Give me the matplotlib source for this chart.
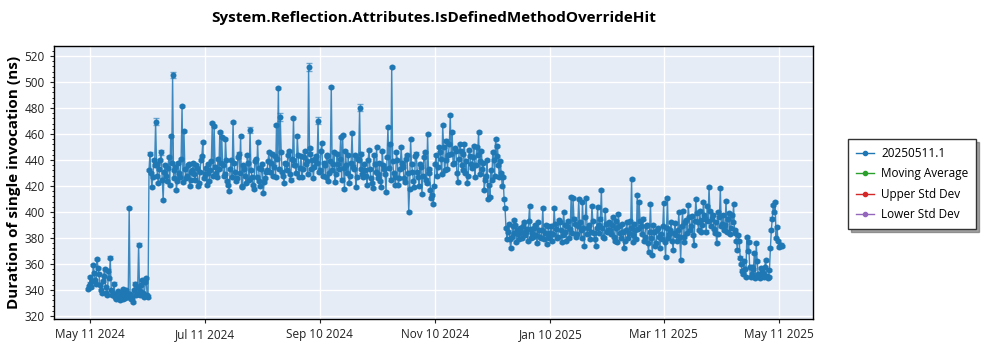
import matplotlib
matplotlib.use("Agg")
import matplotlib.pyplot as plt
from matplotlib.ticker import MultipleLocator
import numpy as np
import pandas as pd

# ---------------- data (ns) ----------------
# main readings: one per day starting 2024-05-10
start_date = "2024-05-10"
seg_may_jun = [340.5, 345, 342, 359, 348, 364, 352, 340, 347, 356, 338, 355, 365, 336, 345, 333,
               339, 332, 336, 341, 334, 338, 403, 333, 331, 345, 337, 375, 336, 348, 335, 349, 335]
seg_jun_jul = [445, 419, 440, 469.5, 428, 433, 446, 409, 436, 424, 442, 458.7, 505.4, 432, 417, 438,
               427, 481.8, 462.5, 426, 436, 420, 431, 438, 425, 434, 422, 440, 454, 429, 421, 437,
               432, 468.7, 466, 430, 441, 461.8]
seg_jul_aug = [458, 428, 456, 424, 416.4, 440, 469.5, 431, 426, 445, 458.5, 420, 433, 422, 438, 463,
               427, 418, 441, 454, 424, 433, 414.3, 426]
seg_aug_oct = [432, 446, 438, 428, 443, 467, 495.6, 473.3, 431, 422, 437, 444, 429, 441, 472.3, 436,
               458.4, 427, 443, 433, 447, 439, 511.3, 449, 440, 435, 443, 470.2, 432, 453.3, 438, 427,
               444, 430, 496.4, 437, 423, 445, 433, 458, 459, 418, 436, 444, 428, 460.5, 433, 419,
               441, 480.2, 445, 427]
seg_oct_nov = [432, 421, 448, 426, 418.7, 437, 450, 429, 424, 447, 433, 415.6, 465.6, 452, 511.3, 430,
               421, 440, 426, 449.7, 435, 423, 444, 400.2, 455.9, 431, 419, 445, 427, 437, 414, 442,
               425, 459.7, 433, 410.5, 406.1]
seg_nov_dec = [437, 428, 450, 441, 466.9, 432, 455, 444, 474.3, 461.8, 438, 447, 423.3, 452, 436, 445,
               430, 422, 448, 437, 442, 427, 450, 461.8, 439, 433, 416.9, 428, 409.7, 411.8, 425, 440,
               455.9, 451, 427, 430]
seg_dec_jan = [427, 403, 379, 391, 372, 389, 394, 377, 383, 388, 380, 392.6, 385, 378, 404.6, 387,
               381, 390, 376, 386, 379.7, 403.3, 384, 375.4, 389]
seg_jan_feb = [384, 378, 402.8, 387, 381, 392, 377, 400.2, 385, 389, 380, 411.8, 410.5, 391, 383, 409.8,
               386, 408, 373.8, 410.5, 388, 379, 404.6, 384, 373.9, 403.6, 390, 417, 381, 401.6, 385]
seg_feb_mar = [392, 383, 396, 378, 388, 398.2, 384, 391, 372, 386, 380, 393, 425.1, 377.2, 386, 413.1,
               407.4, 389, 395, 381, 390, 369.5, 406.2, 367, 385, 376, 388, 372, 379, 406.7, 365.1,
               410.5, 383, 392, 370.8, 391.8]
seg_mar_apr = [378, 399.7, 363.1, 400.8, 381, 394, 405.4, 386, 397, 374.6, 409.8, 392, 401, 385, 407.4,
               395, 404.9, 419.5, 389, 398, 384, 375.9, 400, 418.2, 391, 386, 408.7, 395, 383, 398,
               405.9, 384, 371, 378]
seg_apr_may = [360, 352, 356, 381, 377.2, 350, 358, 368.2, 375.9, 352, 349, 355, 350, 363.1, 349, 355.4,
               386.2, 405.4, 407.4, 388.7, 373.3, 375]

# second reading of each day (midday), same segments
mid_may_jun = [343, 350, 347, 353, 345, 357, 344, 338, 351, 342, 336, 349, 340, 338, 335, 337, 334,
               338, 333, 336, 340, 335, 337, 334, 340, 336, 342, 339, 344, 338, 346, 336, 432]
mid_jun_jul = [430, 427, 436, 437, 422, 440, 425, 431, 428, 434, 421, 438, 426, 435, 424, 430, 441,
               423, 433, 428, 437, 425, 432, 429, 436, 420, 431, 443, 426, 434, 430, 424, 439, 428,
               435, 427, 433, 438]
mid_jul_aug = [436, 429, 440, 421, 433, 427, 438, 424, 442, 430, 419, 436, 428, 444, 425, 432, 421,
               439, 427, 434, 420, 437, 423, 431]
mid_aug_oct = [439, 431, 445, 435, 427, 441, 433, 446, 428, 438, 432, 447, 425, 440, 436, 430, 444,
               434, 427, 442, 437, 429, 445, 433, 426, 441, 438, 431, 447, 428, 436, 443, 424, 439,
               432, 446, 429, 437, 441, 425, 434, 447, 430, 422, 438, 435, 444, 427, 440, 433, 429, 437]
mid_oct_nov = [428, 440, 433, 422, 444, 431, 426, 438, 419, 436, 429, 442, 434, 425, 439, 427, 446,
               421, 433, 438, 426, 441, 430, 418, 437, 424, 443, 431, 420, 435, 428, 446, 422, 430,
               417, 413, 420]
mid_nov_dec = [444, 435, 446, 429, 450, 440, 433, 452, 445, 437, 449, 430, 441, 447, 432, 452, 439,
               428, 443, 434, 451, 436, 444, 429, 447, 438, 425, 440, 421, 432, 446, 428, 443, 436,
               439, 420]
mid_dec_jan = [410, 388, 385, 379, 381, 384, 390, 386, 379, 385, 389, 382, 387, 393, 380, 384, 388,
               382, 392, 381, 386, 379, 390, 383, 380]
mid_jan_feb = [389, 383, 391, 380, 394, 386, 382, 390, 378, 393, 387, 384, 395, 381, 389, 392, 380,
               388, 396, 383, 390, 385, 393, 379, 388, 384, 395, 388, 380, 391, 386]
mid_feb_mar = [386, 390, 381, 393, 377, 389, 380, 385, 378, 392, 384, 388, 382, 391, 379, 387, 393,
               383, 378, 389, 376, 385, 380, 390, 374, 386, 381, 383, 389, 377, 388, 380, 386, 378,
               384, 382]
mid_mar_apr = [386, 381, 389, 377, 392, 384, 396, 389, 382, 393, 399, 386, 394, 390, 398, 385, 393,
               401, 395, 387, 392, 383, 396, 389, 398, 390, 385, 399, 388, 392, 386, 378, 382, 365]
mid_apr_may = [355, 362, 350, 370, 358, 352, 356, 349, 362, 351, 357, 353, 358, 351, 350, 372, 395,
               400, 380, 378, 374, 374]

day_values = (seg_may_jun + seg_jun_jul + seg_jul_aug + seg_aug_oct + seg_oct_nov + seg_nov_dec +
              seg_dec_jan + seg_jan_feb + seg_feb_mar + seg_mar_apr + seg_apr_may)
mid_values = (mid_may_jun + mid_jun_jul + mid_jul_aug + mid_aug_oct + mid_oct_nov + mid_nov_dec +
              mid_dec_jan + mid_jan_feb + mid_feb_mar + mid_mar_apr + mid_apr_may)

day_dates = pd.date_range(start_date, periods=len(day_values), freq="D")
mid_dates = day_dates[:len(mid_values)] + pd.Timedelta(hours=12)

# error-bar half widths: small everywhere, larger on a few spikes
base_err = 0.8
big_err_index = [36, 39, 45, 86, 102, 117, 122, 144]
big_err_size = [2.5, 2.0, 2.5, 2.5, 3.0, 3.0, 2.5, 2.5]
day_err = np.full(len(day_values), base_err)
for i, e in zip(big_err_index, big_err_size):
    day_err[i] = e
mid_err = np.full(len(mid_values), base_err)

df = pd.DataFrame({
    "date": list(day_dates) + list(mid_dates),
    "value": day_values + mid_values,
    "err": list(day_err) + list(mid_err),
}).sort_values("date")

series_name = "20250511.1"
legend_names = ["Moving Average", "Upper Std Dev", "Lower Std Dev"]
legend_colors = ["#2ca02c", "#d62728", "#9467bd"]
tick_dates = ["2024-05-11", "2024-07-11", "2024-09-10", "2024-11-10", "2025-01-10", "2025-03-11", "2025-05-11"]
tick_labels = ["May 11 2024", "Jul 11 2024", "Sep 10 2024", "Nov 10 2024", "Jan 10 2025", "Mar 11 2025", "May 11 2025"]
title = "System.Reflection.Attributes.IsDefinedMethodOverrideHit"
ylabel = "Duration of single invocation (ns)"

# ---------------- plot ----------------
plt.rcParams["font.family"] = ["Open Sans", "DejaVu Sans"]
fig = plt.figure(figsize=(10, 3.5), dpi=100)
ax = fig.add_axes([0.0535, 0.0886, 0.7594, 0.78])
ax.set_facecolor("#E5ECF6")

blue = "#1f77b4"
ax.errorbar(df["date"], df["value"], yerr=df["err"], fmt="none", ecolor=blue, elinewidth=1,
            capsize=2.2, alpha=0.6, zorder=2)
ax.plot(df["date"], df["value"], color=blue, linewidth=1.0, alpha=0.85, zorder=3)
ax.plot(df["date"], df["value"], linestyle="none", marker="o", markersize=4.3, color=blue,
        zorder=4, markeredgewidth=0)

handles = [plt.Line2D([], [], color=blue, marker="o", markersize=3, linewidth=1)]
for c in legend_colors:
    handles.append(plt.Line2D([], [], color=c, marker="o", markersize=3, linewidth=1))
labels = [series_name] + legend_names

x0 = pd.Timestamp("2024-05-11")
ax.set_xlim(x0 - pd.Timedelta(days=19.06), x0 + pd.Timedelta(days=383.0))
ax.set_ylim(317.7, 527.7)
ax.set_xticks([pd.Timestamp(d) for d in tick_dates])
ax.set_xticklabels(tick_labels)
ax.yaxis.set_major_locator(MultipleLocator(20))
ax.yaxis.set_minor_locator(MultipleLocator(4))
ax.tick_params(axis="both", labelsize=8.5, colors="#222222", length=3)
ax.tick_params(axis="y", which="minor", length=1.5)
ax.grid(True, which="major", color="white", linewidth=1.0)
ax.set_axisbelow(True)
for s in ax.spines.values():
    s.set_color("black")
    s.set_linewidth(1.0)

ax.set_ylabel(ylabel, fontsize=11, fontweight="bold")
ax.yaxis.set_label_coords(-0.043, 0.5)
fig.text(0.434, 0.948, title, ha="center", va="center", fontsize=11, fontweight="bold")

leg = fig.legend(handles, labels, loc="upper left", bbox_to_anchor=(0.842, 0.62),
                 fontsize=8.5, frameon=True, fancybox=False, shadow=True, borderpad=0.7,
                 handlelength=1.5, handletextpad=0.6, labelspacing=0.62, edgecolor="#333333")
leg.get_frame().set_linewidth(1.0)

fig.savefig("out.png", dpi=100)
